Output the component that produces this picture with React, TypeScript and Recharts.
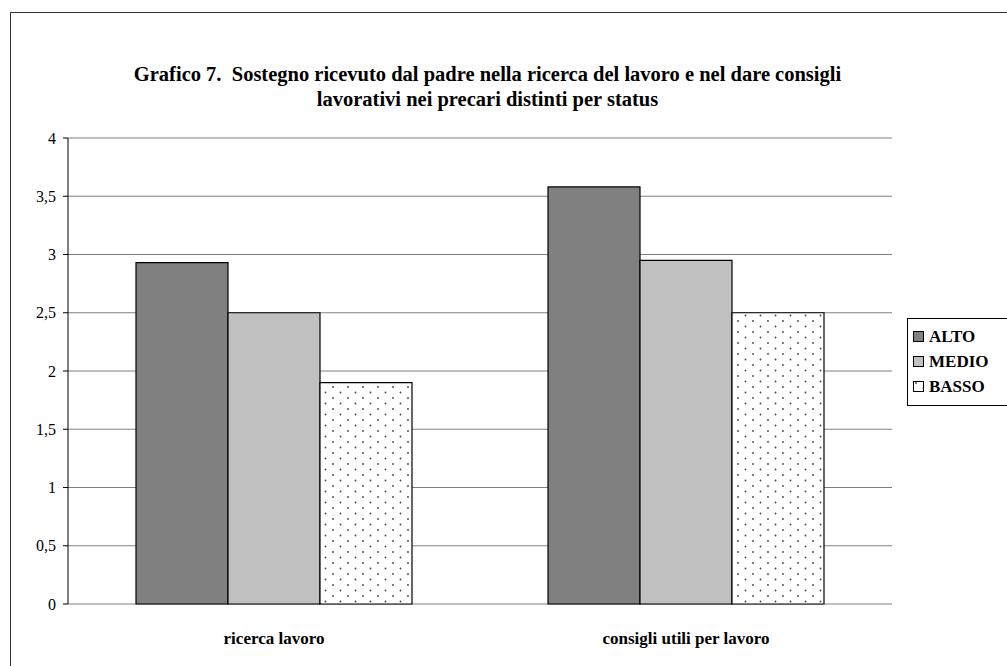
import { Bar, BarChart, CartesianGrid, Legend, XAxis, YAxis } from "recharts";

const categories = ["ricerca lavoro", "consigli utili per lavoro"];
const altoValues = [2.93, 3.58];
const medioValues = [2.5, 2.95];
const bassoValues = [1.9, 2.5];
const seriesNames = ["ALTO", "MEDIO", "BASSO"];
const yTicks = [0, 0.5, 1, 1.5, 2, 2.5, 3, 3.5, 4];
const edgeTicks = [0, 1, 2];
const titleLines = [
  "Grafico 7.  Sostegno ricevuto dal padre nella ricerca del lavoro e nel dare consigli",
  "lavorativi nei precari distinti per status",
];

const data = categories.map((name, i) => ({
  name,
  ALTO: altoValues[i],
  MEDIO: medioValues[i],
  BASSO: bassoValues[i],
}));

const fills: Record<string, string> = {
  ALTO: "#808080",
  MEDIO: "#c0c0c0",
  BASSO: "url(#dots)",
};

const serif = '"Liberation Serif", "Times New Roman", serif';

function LegendBox() {
  return (
    <div
      style={{
        border: "1px solid #000",
        background: "#fff",
        width: 120,
        height: 88,
        boxSizing: "border-box",
        paddingTop: 5,
        paddingLeft: 5,
        fontFamily: serif,
        fontWeight: "bold",
        fontSize: 17,
      }}
    >
      {seriesNames.map((s) => (
        <div key={s} style={{ display: "flex", alignItems: "center", height: 25 }}>
          <svg width={11} height={11} style={{ marginRight: 5 }}>
            <rect x={0.5} y={0.5} width={10} height={10} fill={fills[s]} stroke="#000" />
          </svg>
          <span>{s}</span>
        </div>
      ))}
    </div>
  );
}

export default function App() {
  return (
    <div style={{ position: "absolute", left: 0, top: 0, width: 1007, height: 666, overflow: "hidden", background: "#fff" }}>
      <div
        style={{
          position: "absolute",
          left: 10,
          top: 12,
          width: 1100,
          height: 700,
          border: "1.5px solid #333",
        }}
      />
      <div
        style={{
          position: "absolute",
          left: 0,
          top: 62,
          width: 975,
          textAlign: "center",
          fontFamily: serif,
          fontWeight: "bold",
          fontSize: 20.5,
          lineHeight: "25px",
          zIndex: 2,
        }}
      >
        {titleLines.map((t) => (
          <div key={t} style={{ whiteSpace: "pre" }}>{t}</div>
        ))}
      </div>
      <div style={{ position: "absolute", left: 0, top: 0 }}>
        <BarChart
          width={1007}
          height={666}
          data={data}
          margin={{ top: 138, right: 115, left: 0, bottom: 0 }}
          barGap={0}
          barSize={92}
        >
          <defs>
            <pattern id="dots" width={15} height={11} patternUnits="userSpaceOnUse">
              <rect width={15} height={11} fill="#fff" />
              <circle cx={3} cy={2} r={0.9} fill="#444" />
              <circle cx={10.5} cy={7.5} r={0.9} fill="#444" />
            </pattern>
          </defs>
          <CartesianGrid vertical={false} stroke="#808080" strokeWidth={1.2} />
          <XAxis
            xAxisId="edge"
            type="number"
            domain={[0, 2]}
            ticks={edgeTicks}
            height={0}
            tick={false}
            tickSize={6}
            stroke="#000"
            allowDataOverflow
          />
          <XAxis
            dataKey="name"
            height={62}
            axisLine={false}
            tickLine={false}
            tickMargin={22}
            tick={{ fill: "#000", fontFamily: serif, fontWeight: "bold", fontSize: 17 }}
          />
          <YAxis
            width={68}
            domain={[0, 4]}
            ticks={yTicks}
            tickSize={5}
            tickMargin={7}
            stroke="#000"
            tickFormatter={(v: number) => String(v).replace(".", ",")}
            tick={{ fill: "#000", fontFamily: serif, fontSize: 16 }}
          />
          <Legend
            layout="vertical"
            align="center"
            verticalAlign="middle"
            wrapperStyle={{ left: 907, top: 318, width: 120 }}
            content={() => <LegendBox />}
          />
          {seriesNames.map((s) => (
            <Bar key={s} dataKey={s} fill={fills[s]} stroke="#000" strokeWidth={1.2} isAnimationActive={false} />
          ))}
        </BarChart>
      </div>
    </div>
  );
}
